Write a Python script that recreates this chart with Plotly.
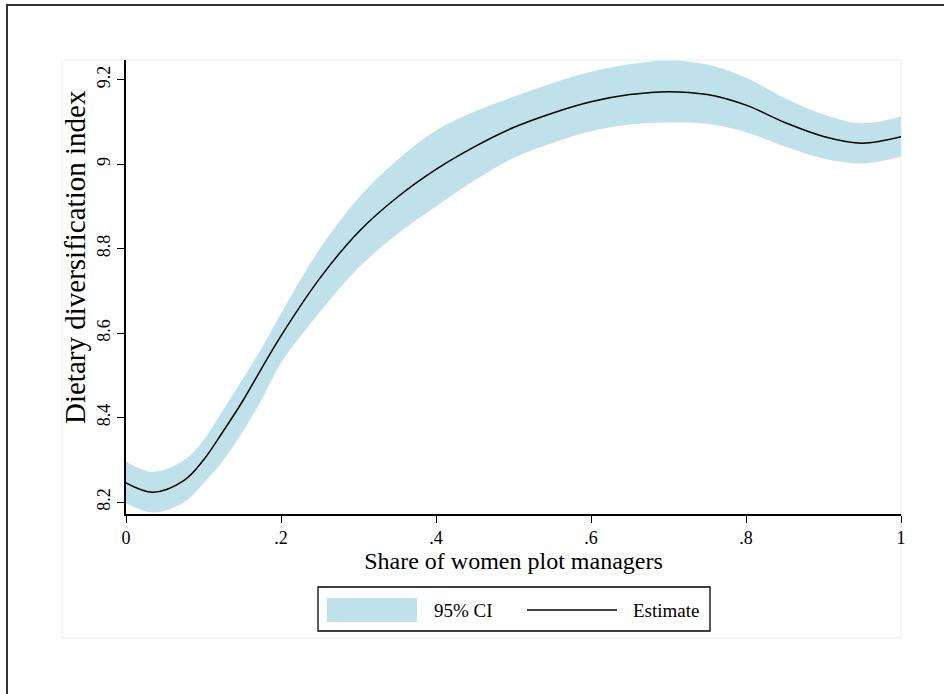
import plotly.graph_objects as go

# Share of women plot managers (x) and fitted dietary diversification index
share = [0.0, 0.035, 0.075, 0.1, 0.125, 0.15, 0.175, 0.2, 0.25, 0.3, 0.35, 0.4,
         0.45, 0.5, 0.55, 0.6, 0.65, 0.7, 0.75, 0.8, 0.85, 0.9, 0.95, 1.0]
estimate = [8.246, 8.224, 8.252, 8.300, 8.367, 8.438, 8.517, 8.594, 8.730, 8.840,
            8.922, 8.988, 9.042, 9.087, 9.121, 9.148, 9.165, 9.172, 9.165, 9.140,
            9.099, 9.066, 9.050, 9.065]
ci_upper = [8.296, 8.272, 8.300, 8.347, 8.418, 8.490, 8.565, 8.647, 8.800, 8.920,
            9.010, 9.080, 9.125, 9.160, 9.192, 9.219, 9.237, 9.246, 9.236, 9.205,
            9.157, 9.118, 9.097, 9.113]
ci_lower = [8.198, 8.176, 8.200, 8.245, 8.298, 8.365, 8.443, 8.530, 8.650, 8.755,
            8.835, 8.900, 8.962, 9.015, 9.050, 9.078, 9.094, 9.099, 9.096, 9.076,
            9.042, 9.014, 9.002, 9.018]

x_ticks = [0, 0.2, 0.4, 0.6, 0.8, 1.0]
x_tick_labels = ["0", ".2", ".4", ".6", ".8", "1"]
y_ticks = [8.2, 8.4, 8.6, 8.8, 9.0, 9.2]
y_tick_labels = ["8.2", "8.4", "8.6", "8.8", "9", "9.2"]

W, H = 944, 694
ML, MR, MT, MB = 126, 43, 60, 180
PW, PH = W - ML - MR, H - MT - MB

FONT = "Liberation Serif"
CI_COLOR = "#bfe1ea"


def px(xpix):
    return (xpix - ML) / PW


def py(ypix):
    return (H - MB - ypix) / PH


fig = go.Figure()

fig.add_trace(go.Scatter(
    x=share, y=ci_upper, mode="lines", line=dict(width=0, shape="spline", color=CI_COLOR),
    showlegend=False, hoverinfo="skip"))
fig.add_trace(go.Scatter(
    x=share, y=ci_lower, mode="lines", line=dict(width=0, shape="spline", color=CI_COLOR),
    fill="tonexty", fillcolor=CI_COLOR, name="95% CI", showlegend=False))
fig.add_trace(go.Scatter(
    x=share, y=estimate, mode="lines", line=dict(width=1.5, shape="spline", color="black"),
    name="Estimate", showlegend=False))

shapes = [
    # outer graph frame
    dict(type="rect", xref="paper", yref="paper", x0=px(7), x1=px(960), y0=py(710), y1=py(5),
         line=dict(color="#333333", width=2), layer="below"),
    # light plot-region frame
    dict(type="rect", xref="paper", yref="paper", x0=px(62), x1=px(901), y0=py(638), y1=py(60),
         line=dict(color="#e4eef0", width=1), layer="below"),
    # legend box
    dict(type="rect", xref="paper", yref="paper", x0=px(318), x1=px(710), y0=py(631), y1=py(587),
         line=dict(color="black", width=1.3), fillcolor="white"),
    # legend key: CI swatch
    dict(type="rect", xref="paper", yref="paper", x0=px(327), x1=px(417), y0=py(622), y1=py(598),
         line=dict(width=0), fillcolor=CI_COLOR),
    # legend key: estimate line
    dict(type="line", xref="paper", yref="paper", x0=px(527), x1=px(617), y0=py(610), y1=py(610),
         line=dict(color="black", width=1.5)),
]

annotations = [
    dict(text="95% CI", xref="paper", yref="paper", x=px(432), y=py(610), xanchor="left",
         yanchor="middle", showarrow=False, font=dict(family=FONT, size=19, color="black")),
    dict(text="Estimate", xref="paper", yref="paper", x=px(631), y=py(610), xanchor="left",
         yanchor="middle", showarrow=False, font=dict(family=FONT, size=19, color="black")),
    # y-axis title
    dict(text="Dietary diversification index", xref="paper", yref="paper", x=px(75), y=py(257),
         xanchor="center", yanchor="middle", textangle=-90, showarrow=False,
         font=dict(family=FONT, size=29, color="black")),
]

fig.update_layout(
    width=W, height=H,
    margin=dict(l=ML, r=MR, t=MT, b=MB, pad=0),
    paper_bgcolor="white", plot_bgcolor="white",
    showlegend=False,
    shapes=shapes, annotations=annotations,
    font=dict(family=FONT, color="black"),
    xaxis=dict(
        range=[0, 1], tickmode="array", tickvals=x_ticks, ticktext=x_tick_labels,
        showgrid=False, zeroline=False, showline=True, linecolor="black", linewidth=1.5,
        ticks="outside", ticklen=7, tickwidth=1.3, tickcolor="black",
        tickfont=dict(family=FONT, size=18, color="black"),
        title=dict(text="Share of women plot managers", standoff=4,
                   font=dict(family=FONT, size=24, color="black")),
    ),
    yaxis=dict(
        range=[8.1723, 9.2469], tickmode="array", tickvals=y_ticks, ticktext=y_tick_labels,
        showgrid=False, zeroline=False, showline=True, linecolor="black", linewidth=1.5,
        ticks="outside", ticklen=7, tickwidth=1.3, tickcolor="black", tickangle=-90,
        tickfont=dict(family=FONT, size=18, color="black"),
    ),
)

fig.write_html("out.html")
